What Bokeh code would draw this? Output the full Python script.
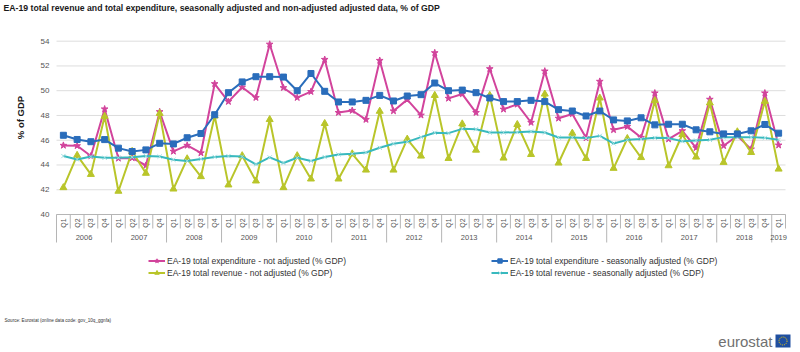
import numpy as np
from math import pi
from bokeh.plotting import figure
from bokeh.models import Range1d, FixedTicker, Legend, LegendItem, LinearAxis
from bokeh.embed import file_html
from bokeh.resources import INLINE
from bokeh.core.properties import value

# ---------------- data ----------------
YEARS = ["2006", "2007", "2008", "2009", "2010", "2011", "2012",
         "2013", "2014", "2015", "2016", "2017", "2018", "2019"]
QUARTERS = ["Q1", "Q2", "Q3", "Q4"]
N_PERIODS = 53  # 2006Q1 .. 2019Q1

exp_not_adj = [45.58, 45.55, 44.72, 48.52, 44.54, 44.57, 43.96, 48.30,
               45.10, 45.58, 44.97, 50.56, 49.12, 50.28, 49.44, 53.75,
               50.24, 49.44, 49.92, 52.52, 48.23, 48.40, 47.67, 52.44,
               48.36, 49.28, 48.02, 53.06, 49.38, 49.73, 48.23, 51.77,
               48.50, 48.90, 47.43, 51.58, 47.77, 48.12, 46.19, 50.75,
               46.84, 47.10, 46.22, 49.81, 46.09, 46.76, 45.39, 49.30,
               45.55, 46.35, 45.28, 49.81, 45.60]
exp_sa = [46.40, 46.06, 45.88, 46.05, 45.36, 45.09, 45.22, 45.75,
          45.70, 46.20, 46.54, 48.06, 49.84, 50.71, 51.13, 51.13,
          51.10, 50.00, 51.39, 49.95, 49.09, 49.09, 49.22, 49.62,
          49.17, 49.57, 49.68, 50.62, 50.00, 50.05, 49.84, 49.41,
          49.12, 49.12, 49.22, 49.12, 48.47, 48.36, 47.96, 48.36,
          47.64, 47.56, 47.81, 47.24, 47.29, 47.29, 46.84, 46.68,
          46.51, 46.51, 46.76, 47.27, 46.57]
rev_not_adj = [42.17, 44.78, 43.24, 47.93, 41.88, 45.10, 43.33, 48.17,
               42.06, 44.50, 43.06, 47.96, 42.39, 44.75, 42.71, 47.67,
               42.17, 44.75, 42.87, 47.35, 42.87, 44.90, 43.59, 48.34,
               43.59, 46.09, 44.72, 49.62, 44.53, 47.32, 45.20, 49.62,
               44.56, 47.27, 44.85, 49.73, 44.16, 46.57, 44.53, 49.41,
               43.73, 46.14, 44.60, 49.20, 43.94, 46.46, 44.64, 49.01,
               44.21, 46.68, 45.01, 49.14, 43.67]
rev_sa = [44.72, 44.45, 44.68, 44.58, 44.58, 44.63, 44.72, 44.68,
          44.42, 44.33, 44.48, 44.65, 44.72, 44.68, 44.05, 44.61,
          44.16, 44.58, 44.32, 44.64, 44.85, 44.90, 45.01, 45.39,
          45.71, 45.87, 46.25, 46.60, 46.57, 46.92, 46.89, 46.62,
          46.62, 46.65, 46.70, 46.62, 46.22, 46.22, 46.17, 46.35,
          45.74, 46.03, 46.09, 46.19, 46.17, 45.92, 45.98, 46.03,
          46.25, 46.25, 46.25, 46.19, 46.03]
Y_TICKS = [40, 42, 44, 46, 48, 50, 52, 54]

SERIES_NAMES = ["EA-19 total expenditure - not adjusted (% GDP)",
                "EA-19 total expenditure - seasonally adjusted (% GDP)",
                "EA-19 total revenue - not adjusted (% GDP)",
                "EA-19 total revenue - seasonally adjusted (% GDP)"]

TITLE = ("EA-19 total revenue and total expenditure, seasonally adjusted "
         "and non-adjusted adjusted data, % of GDP")
SOURCE = "Source: Eurostat (online data code: gov_10q_ggnfa)"
Y_LABEL = "% of GDP"

# ---------------- layout (pixel geometry of the page) ----------------
W, H = 800, 352
PLOT_L, PLOT_R = 56, 785          # left / right edge of the category area
Y_AXIS_MIN = Y_TICKS[0]
Y_AXIS_MIN_PX = 214               # page row of the lowest gridline
UNIT = 12.38                      # px per percentage point
UX = (PLOT_R - PLOT_L) / N_PERIODS

def px_x(cx):
    """page x (px) -> category index coordinate"""
    return -0.5 + (cx - PLOT_L) / UX

def py_y(cy):
    """page y (px from top) -> value coordinate"""
    return Y_AXIS_MIN - (cy - Y_AXIS_MIN_PX) / UNIT

FONT = "Liberation Sans"
PINK, BLUE, YELLOW, CYAN = "#D2449C", "#2A6DBB", "#B9C52A", "#38B9BE"
CYAN_MK = "#9FDDE0"
GRID_COL = "#DDDDDD"
AX_COL = "#B5B5B5"
TXT_COL = "#555555"

quarter_labels = [q for y in YEARS for q in QUARTERS][:N_PERIODS]
year_of = [y for y in YEARS for q in QUARTERS][:N_PERIODS]
x = np.arange(N_PERIODS)
x_first, x_last = -0.5, N_PERIODS - 0.5

p = figure(width=W, height=H, output_backend="svg", toolbar_location=None,
           x_range=Range1d(px_x(0), px_x(W)), y_range=Range1d(py_y(H), py_y(0)),
           x_axis_type=None, y_axis_type=None, title=None,
           min_border_left=0, min_border_right=0, min_border_top=0,
           min_border_bottom=0)
p.outline_line_color = None
p.xgrid.grid_line_color = None
p.ygrid.grid_line_color = None

# y axis at the left edge of the category area
yax = LinearAxis(ticker=FixedTicker(ticks=Y_TICKS), fixed_location=x_first)
yax.axis_line_color = None
yax.major_tick_line_color = None
yax.minor_tick_line_color = None
yax.major_tick_out = 0
yax.major_tick_in = 0
yax.major_label_text_font_size = "8px"
yax.major_label_text_font = FONT
yax.major_label_text_color = TXT_COL
yax.major_label_standoff = 7
p.add_layout(yax, "left")

# horizontal gridlines over the category area
p.segment(x0=[x_first] * len(Y_TICKS), y0=Y_TICKS, x1=[x_last] * len(Y_TICKS),
          y1=Y_TICKS, line_color=GRID_COL, line_width=1)

# ---------------- series ----------------
r = {}
r["pink_l"] = p.line(x, exp_not_adj, line_color=PINK, line_width=2)
r["pink_m"] = p.scatter(x, exp_not_adj, marker="star", size=7, fill_color=PINK, line_color=PINK)
r["yel_l"] = p.line(x, rev_not_adj, line_color=YELLOW, line_width=2)
r["yel_m"] = p.scatter(x, rev_not_adj, marker="triangle", size=7, fill_color=YELLOW, line_color=YELLOW)
r["cya_l"] = p.line(x, rev_sa, line_color=CYAN, line_width=2)
r["cya_m"] = p.scatter(x, rev_sa, marker="x", size=6, line_color=CYAN_MK, line_width=1)
r["blu_l"] = p.line(x, exp_sa, line_color=BLUE, line_width=2)
r["blu_m"] = p.scatter(x, exp_sa, marker="square", size=6, fill_color=BLUE, line_color=BLUE)

# ---------------- category axis box ----------------
p.segment(x0=[x_first], y0=[Y_AXIS_MIN], x1=[x_last], y1=[Y_AXIS_MIN],
          line_color=AX_COL, line_width=1)
bounds = np.arange(N_PERIODS + 1) - 0.5
is_year_start = [i < N_PERIODS and quarter_labels[i] == "Q1" for i in range(N_PERIODS + 1)]
bottoms = [py_y(Y_AXIS_MIN_PX + (28 if ys else 14)) for ys in is_year_start]
p.segment(x0=bounds, y0=[Y_AXIS_MIN] * len(bounds), x1=bounds, y1=bottoms,
          line_color=AX_COL, line_width=1)
p.text(x=x, y=[py_y(Y_AXIS_MIN_PX + 8.5)] * N_PERIODS, text=quarter_labels,
       angle=pi / 2, text_align="center", text_baseline="middle",
       text_font=value(FONT), text_font_size="7px", text_color=TXT_COL)
year_x = [float(np.mean([i for i in range(N_PERIODS) if year_of[i] == y])) for y in YEARS]
p.text(x=year_x, y=[py_y(Y_AXIS_MIN_PX + 23)] * len(YEARS), text=YEARS,
       text_align="center", text_baseline="middle", text_font=value(FONT),
       text_font_size="7.5px", text_color=TXT_COL)

# ---------------- legend ----------------
legend = Legend(items=[
    LegendItem(label=SERIES_NAMES[0], renderers=[r["pink_l"], r["pink_m"]]),
    LegendItem(label=SERIES_NAMES[2], renderers=[r["yel_l"], r["yel_m"]]),
    LegendItem(label=SERIES_NAMES[1], renderers=[r["blu_l"], r["blu_m"]]),
    LegendItem(label=SERIES_NAMES[3], renderers=[r["cya_l"], r["cya_m"]])],
    ncols=2, location=(148, 74), border_line_color=None,
    background_fill_alpha=0, label_text_font_size="8.5px",
    label_text_font=FONT, label_text_color="#333333",
    glyph_width=17, glyph_height=11, label_height=11,
    label_width=323, label_standoff=2, spacing=1, padding=0, margin=0)
p.add_layout(legend)

# ---------------- texts ----------------
p.text(x=[px_x(3)], y=[py_y(7.5)], text=[TITLE], text_align="left",
       text_baseline="middle", text_font=value(FONT), text_font_size="8.7px",
       text_font_style="bold", text_color="#1A1A1A")
p.text(x=[px_x(20)], y=[py_y(117)], text=[Y_LABEL], angle=pi / 2,
       text_align="center", text_baseline="middle", text_font=value(FONT),
       text_font_size="9.5px", text_font_style="bold", text_color="#1A1A1A")
p.text(x=[px_x(4)], y=[py_y(320)], text=[SOURCE], text_align="left",
       text_baseline="middle", text_font=value(FONT), text_font_size="4.6px",
       text_color="#333333")
p.text(x=[px_x(772)], y=[py_y(341)], text=["eurostat"], text_align="right",
       text_baseline="middle", text_font=value(FONT), text_font_size="15px",
       text_color="#707070")
p.rect(x=[px_x(782.5)], y=[py_y(340.5)], width=15, height=13, width_units="screen",
       height_units="screen", fill_color="#1F4FA0", line_color=None)
p.scatter(x=[px_x(782.5)], y=[py_y(340.5)], marker="circle", size=8, fill_alpha=0,
          line_color="#FFD500", line_width=1, line_dash="1 1")

open("out.html", "w").write(file_html(p, INLINE))
